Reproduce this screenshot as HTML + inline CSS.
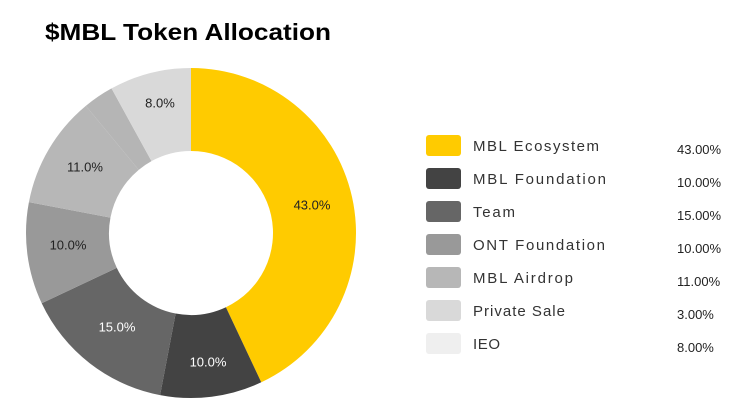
<!DOCTYPE html>
<html><head><style>
body{margin:0;width:753px;height:411px;background:#fff;overflow:hidden;font-family:"Liberation Sans",sans-serif}
</style></head><body>
<svg width="753" height="411" xmlns="http://www.w3.org/2000/svg">
<text x="45" y="40" font-size="23" font-weight="bold" fill="#000" textLength="286" lengthAdjust="spacingAndGlyphs">$MBL Token Allocation</text>
<g id="pie"></g>
<g font-size="13" text-anchor="middle" dominant-baseline="middle">
<text x="312" y="206" fill="#222">43.0%</text>
<text x="208" y="363" fill="#fff">10.0%</text>
<text x="117" y="328" fill="#fff">15.0%</text>
<text x="68" y="246" fill="#222">10.0%</text>
<text x="85" y="168" fill="#222">11.0%</text>
<text x="160" y="104" fill="#222">8.0%</text>
</g>
<g font-size="15" fill="#333" lengthAdjust="spacingAndGlyphs">
<rect x="426" y="135" width="35" height="21" rx="3" fill="#ffcb00"/><text x="473" y="151" textLength="126">MBL Ecosystem</text>
<rect x="426" y="168" width="35" height="21" rx="3" fill="#434343"/><text x="473" y="184" textLength="133">MBL Foundation</text>
<rect x="426" y="201" width="35" height="21" rx="3" fill="#666"/><text x="473" y="217" textLength="42">Team</text>
<rect x="426" y="234" width="35" height="21" rx="3" fill="#999"/><text x="473" y="250" textLength="132">ONT Foundation</text>
<rect x="426" y="267" width="35" height="21" rx="3" fill="#b7b7b7"/><text x="473" y="283" textLength="100">MBL Airdrop</text>
<rect x="426" y="300" width="35" height="21" rx="3" fill="#d9d9d9"/><text x="473" y="316" textLength="92">Private Sale</text>
<rect x="426" y="333" width="35" height="21" rx="3" fill="#efefef"/><text x="473" y="349" textLength="27">IEO</text>
</g>
<g font-size="13" fill="#222">
<text x="677" y="154">43.00%</text>
<text x="677" y="187">10.00%</text>
<text x="677" y="220">15.00%</text>
<text x="677" y="253">10.00%</text>
<text x="677" y="286">11.00%</text>
<text x="677" y="319">3.00%</text>
<text x="677" y="352">8.00%</text>
</g>
</svg>
<script>
var cx=191,cy=233,R=165,r=82;
var d=[[43,"#ffcb00"],[10,"#434343"],[15,"#666666"],[10,"#999999"],[11,"#b7b7b7"],[3,"#b5b5b5"],[8,"#d9d9d9"]];
var a=0,s="";
function p(ang,rad){var t=ang*Math.PI/180;return (cx+rad*Math.sin(t)).toFixed(2)+","+(cy-rad*Math.cos(t)).toFixed(2);}
d.forEach(function(e){var b=a+e[0]*3.6;var l=(b-a)>180?1:0;
s+='<path d="M'+p(a,R)+' A'+R+','+R+' 0 '+l+' 1 '+p(b,R)+' L'+p(b,r)+' A'+r+','+r+' 0 '+l+' 0 '+p(a,r)+' Z" fill="'+e[1]+'"/>';a=b;});
document.getElementById("pie").innerHTML=s;
</script>
</body></html>
